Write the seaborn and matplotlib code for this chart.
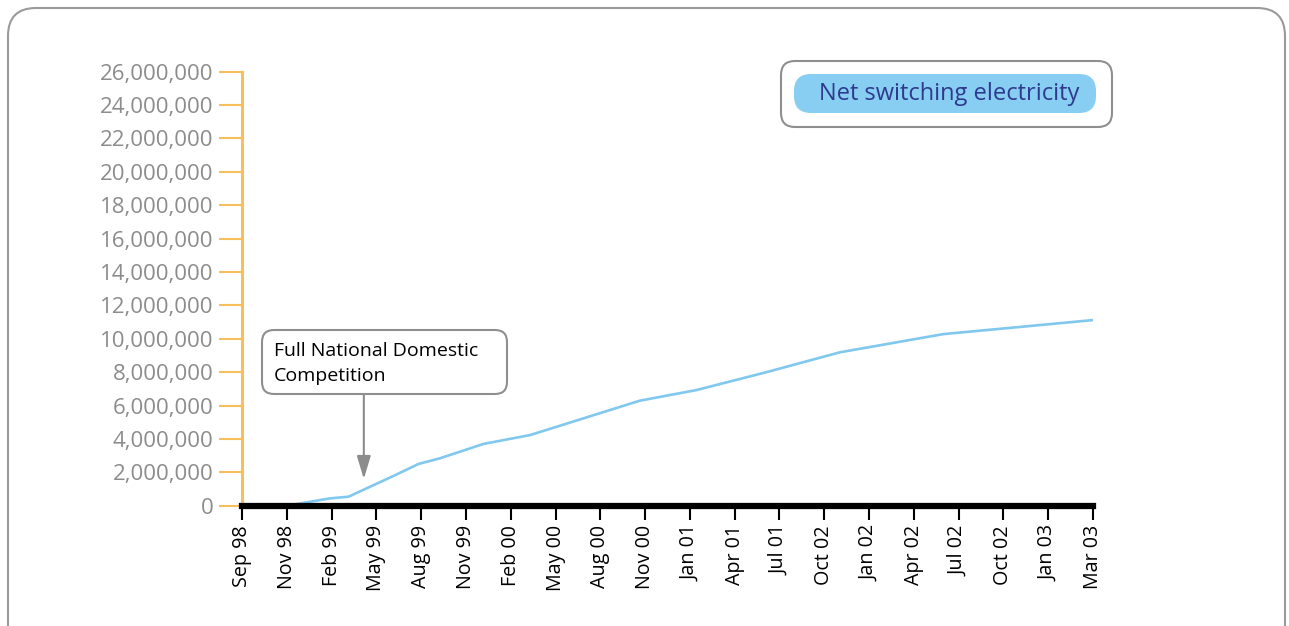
import pandas as pd
import seaborn as sns
import matplotlib.pyplot as plt
import matplotlib.transforms as mtransforms
from matplotlib.patches import FancyBboxPatch
from matplotlib.ticker import FuncFormatter

# tick labels along the category axis (as printed in the source, incl. "Oct 02" twice)
months = ["Sep 98", "Nov 98", "Feb 99", "May 99", "Aug 99", "Nov 99", "Feb 00",
          "May 00", "Aug 00", "Nov 00", "Jan 01", "Apr 01", "Jul 01", "Oct 02",
          "Jan 02", "Apr 02", "Jul 02", "Oct 02", "Jan 03", "Mar 03"]

# line vertices: position along the tick axis and net switched customers
pos = [0, 1.0, 1.97, 2.38, 3.38, 3.94, 4.42, 5.39, 6.43, 8.88, 10.15, 11.71,
       13.35, 15.66, 19.0]
switched = [0, 0, 440000, 540000, 1780000, 2500000, 2840000, 3700000, 4230000,
            6290000, 6930000, 8000000, 9190000, 10280000, 11120000]

# Full National Domestic Competition marker
fndc_pos = 2.72
fndc_top, fndc_tip = 6690000, 1600000

sns.set_theme(style="white")
plt.rcParams['font.family'] = ['Open Sans', 'DejaVu Sans']

W, H = 1289, 626
fig = plt.figure(figsize=(W / 100, H / 100), dpi=100)
ax = fig.add_axes([242 / W, 1 - 505.7 / H, (1093 - 242) / W, (505.7 - 71.7) / H])

df = pd.DataFrame({'pos': pos, 'switched': switched})
sns.lineplot(data=df, x='pos', y='switched', color='#80C8EE', lw=1.9, ax=ax)

ax.set_xlim(0, len(months) - 1)
ax.set_ylim(0, 26000000)
ax.set_xticks(range(len(months)))
ax.set_xticklabels(months, rotation=90)
ax.set_yticks(range(0, 26000001, 2000000))
ax.yaxis.set_major_formatter(FuncFormatter(lambda v, p: f"{int(v):,}"))
ax.set_xlabel('')
ax.set_ylabel('')

for s in ['top', 'right']:
    ax.spines[s].set_visible(False)
ax.spines['left'].set_color('#F7BE5C')
ax.spines['left'].set_linewidth(2.2)
ax.spines['bottom'].set_color('black')
ax.spines['bottom'].set_linewidth(4.5)
ax.spines['bottom'].set_zorder(3)

ax.tick_params(axis='y', left=True, direction='out', length=16.5, width=1.5,
               color='#F7BE5C', labelcolor='#8C8C8C', labelsize=16, pad=4)
ax.tick_params(axis='x', bottom=True, direction='out', length=10, width=1.5,
               color='black', labelcolor='black', labelsize=14.2, pad=4)

ax.annotate('', xy=(fndc_pos, fndc_tip), xytext=(fndc_pos, fndc_top),
            arrowprops=dict(arrowstyle='-|>,head_length=1.0,head_width=0.3',
                            mutation_scale=14, color='#8C8C8C', lw=1.5,
                            shrinkA=0, shrinkB=0))


def rbox(x0, y0, x1, y1, r, **kw):
    p = FancyBboxPatch((x0, H - y1), x1 - x0, y1 - y0,
                       boxstyle=f"round,pad=0,rounding_size={r}",
                       transform=mtransforms.IdentityTransform(), **kw)
    fig.add_artist(p)


# outer frame
rbox(8, 8, 1285, 690, 28, fc='none', ec='#9A9A9A', lw=1.5)

# legend
rbox(781, 61, 1112, 127, 14, fc='white', ec='#8F8F8F', lw=1.5)
rbox(794, 74, 1096, 113, 17, fc='#88CDF2', ec='none')
fig.text(949.5 / W, 1 - 93.5 / H, "Net switching electricity", ha='center',
         va='center', fontsize=17, color='#2E3A8C')

# annotation box
rbox(262, 330, 507, 394, 12, fc='white', ec='#8F8F8F', lw=1.5)
fig.text(274 / W, 1 - 363.5 / H, "Full National Domestic\nCompetition",
         ha='left', va='center', fontsize=14, linespacing=1.55, color='black')

fig.savefig('out.png', dpi=100)
